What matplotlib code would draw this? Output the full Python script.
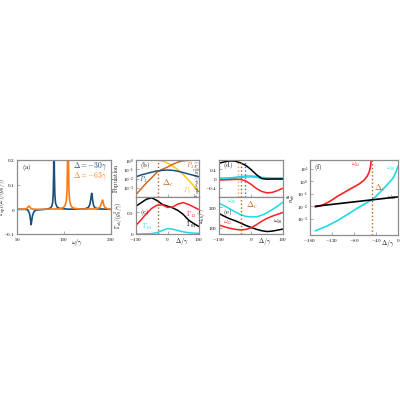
import numpy as np
import matplotlib
matplotlib.use("Agg")
import matplotlib.pyplot as plt

plt.rcParams['mathtext.fontset'] = 'cm'
plt.rcParams['font.family'] = 'serif'
plt.rcParams['font.serif'] = ['DejaVu Serif']

# --- colours ---
BLUE = '#1b4f7c'
ORANGE = '#ff7a14'
GOLD = '#ffc61a'
BROWN = '#d2691e'
DC_COL = '#b8621b'
RED = '#ff2020'
CYAN = '#20d8e6'
FRAME = '#8c8c8c'

# --- panel (a): optical damping spectra ---
omega_m30 = [50, 70, 74, 77, 79, 80, 81, 83, 86, 90, 110, 120, 124, 126, 127, 128, 128.7,
             129.5, 130.5, 132, 135, 140, 160, 195, 202, 205, 207, 208, 209, 210, 211,
             213, 216, 222, 250]
gopt_m30 = [0, 0, -0.005, -0.02, -0.045, -0.062, -0.05, -0.025, -0.01, -0.003, 0, 0.004,
            0.012, 0.03, 0.06, 0.15, 0.35, 0.15, 0.06, 0.025, 0.01, 0.004, 0.0005, 0.002,
            0.008, 0.02, 0.04, 0.055, 0.065, 0.055, 0.035, 0.015, 0.006, 0.002, 0]
omega_m63 = [50, 68, 72, 74, 75.5, 77, 79, 83, 100, 140, 148, 152, 155, 156.5, 157.5, 158.5,
             159.5, 160.5, 162, 165, 170, 185, 220, 226, 229, 231, 232, 233, 235, 238, 244, 250]
gopt_m63 = [0, 0.001, 0.006, 0.011, 0.014, 0.011, 0.005, 0.001, 0, 0.002, 0.006, 0.015,
            0.035, 0.08, 0.2, 0.4, 0.2, 0.08, 0.035, 0.013, 0.005, 0.001, 0.002, 0.008,
            0.02, 0.032, 0.038, 0.032, 0.015, 0.006, 0.002, 0]

# --- panels (b)-(e): detuning scans ---
delta = [-150, -125, -100, -75, -50, -25, 0, 25, 50, 75, 100, 125, 150]
P0 = [1.0, 1.0, 1.0, 0.99, 0.955, 0.83, 0.5, 0.224, 0.089, 0.028, 0.0071, 0.0016, 0.0004]
P1 = [0.0158, 0.025, 0.0355, 0.05, 0.068, 0.079, 0.085, 0.079, 0.063, 0.045, 0.0316, 0.0224, 0.0158]
P2 = [0.00018, 0.0008, 0.0035, 0.0126, 0.05, 0.1, 0.18, 0.355, 0.63, 0.85, 0.955, 1.0, 1.0]

G01 = [0.64, 0.72, 0.8, 0.83, 0.77, 0.68, 0.64, 0.6, 0.54, 0.45, 0.32, 0.24, 0.17]
G12 = [0.2, 0.33, 0.47, 0.59, 0.66, 0.67, 0.61, 0.62, 0.69, 0.72, 0.68, 0.62, 0.56]
G02 = [0, 0, 0.003, 0.01, 0.03, 0.08, 0.125, 0.11, 0.08, 0.05, 0.03, 0.02, 0.015]

Gopt10 = [0.66, 0.72, 0.76, 0.75, 0.68, 0.57, 0.39, 0.17, 0.0, -0.03, -0.02, -0.02, -0.02]
Gopt20 = [0, 0, 0.01, 0.03, 0.06, 0.09, 0.09, 0.07, 0.03, 0.01, 0, 0, 0]
Gopt21 = [-0.07, -0.06, -0.05, -0.04, -0.04, -0.1, -0.25, -0.43, -0.56, -0.62, -0.6, -0.52, -0.42]

w10 = [170, 156, 144, 135, 124, 112, 102, 93, 86, 82, 84, 89, 94]
w20 = [220, 207, 193, 178, 165, 156, 153, 154, 161, 173, 189, 206, 225]
w21 = [114, 105, 98, 93, 90, 92, 100, 115, 132, 146, 157, 166, 175]

delta_c = -47
delta_m63 = -63
delta_m30 = -30

# --- panel (f) ---
delta_f10 = [-150, -125, -100, -75, -50, -25, 0]
n10 = [0.01, 0.0133, 0.0178, 0.0237, 0.0316, 0.0422, 0.0562]
delta_f20 = [-150, -130, -110, -90, -70, -50, -40, -30, -20, -10, -5, 0]
n20 = [1.1e-4, 2.5e-4, 7.1e-4, 0.0025, 0.0089, 0.028, 0.063, 0.178, 0.5, 1.58, 4.0, 15.8]
delta_f21 = [-150, -140, -130, -120, -110, -100, -90, -80, -70, -62, -56, -52, -50, -48.5]
n21 = [0.0089, 0.0112, 0.0178, 0.0316, 0.063, 0.112, 0.2, 0.355, 0.63, 1.2, 2.5, 6.0, 15.0, 60.0]

FS_TICK = 3.6
FS_LAB = 4.4
FS_TXT = 4.8


def style(ax):
    for s in ax.spines.values():
        s.set_color(FRAME)
        s.set_linewidth(0.9)
    ax.tick_params(direction='in', length=2, width=0.5, color=FRAME,
                   labelsize=FS_TICK, pad=1.2)


def m(s):
    return r'$' + s + r'$'


def note(ax, x, y, s, color='black', size=FS_TXT, **kw):
    ax.text(x, y, s, color=color, transform=ax.transAxes, fontsize=size, va='center', **kw)


fig = plt.figure(figsize=(4, 4), dpi=100)

# (a)
ax_a = fig.add_axes([0.0425, 0.415, 0.235, 0.185])
ax_a.axhline(0, color='#bbbbbb', lw=0.4)
ax_a.plot(omega_m30, gopt_m30, color=BLUE, lw=1.2)
ax_a.plot(omega_m63, gopt_m63, color=ORANGE, lw=1.2)
ax_a.set_xlim(50, 250)
ax_a.set_ylim(-0.1, 0.2)
ax_a.set_xticks([50, 150, 250])
ax_a.set_xticklabels([m('50'), m('150'), m('250')])
ax_a.set_yticks([-0.1, 0, 0.1, 0.2])
ax_a.set_yticklabels([m('-0.1'), m('0'), m('0.1'), m('0.2')])
style(ax_a)
ax_a.set_ylabel(r'$\Gamma_{\rm opt}(\omega)/(g_0^2/\gamma)$', fontsize=4.2)
ax_a.yaxis.set_label_coords(-0.1, 0.5)
ax_a.text(0.64, -0.04, r'$\omega/\gamma$', transform=ax_a.transAxes, fontsize=FS_LAB,
          ha='center', va='top')
note(ax_a, 0.05, 0.9, r'$\rm (a)$')
note(ax_a, 0.97, 0.915, r'$\Delta=-30\gamma$', color=BLUE, size=5.5, ha='right')
note(ax_a, 0.97, 0.785, r'$\Delta=-63\gamma$', color=ORANGE, size=5.5, ha='right')

# (b)
ax_b = fig.add_axes([0.34, 0.5075, 0.1575, 0.0925])
ax_b.plot(delta, P0, color=GOLD, lw=1.1)
ax_b.plot(delta, P2, color=BROWN, lw=1.1)
ax_b.plot(delta, P1, color=BLUE, lw=1.1)
ax_b.axvline(delta_c, color=DC_COL, ls=':', lw=1.0)
ax_b.set_yscale('log')
ax_b.set_xlim(-150, 150)
ax_b.set_ylim(1e-4, 1.05)
ax_b.set_yticks([1, 1e-1, 1e-2, 1e-3])
ax_b.set_yticklabels([m('10^{0}'), m('10^{-1}'), m('10^{-2}'), m('10^{-3}')])
ax_b.minorticks_off()
ax_b.set_xticks([-150, 0, 150])
ax_b.set_xticklabels([])
style(ax_b)
ax_b.set_ylabel(r'$\mathrm{Population}$', fontsize=4.2, labelpad=1)
note(ax_b, 0.07, 0.84, r'$\rm (b)$')
note(ax_b, 0.04, 0.47, r'$P_1$', color=BLUE)
note(ax_b, 0.8, 0.84, r'$P_2$', color=BROWN)
note(ax_b, 0.74, 0.16, r'$P_0$', color=GOLD)
note(ax_b, 0.42, 0.36, r'$\Delta_c$', color=DC_COL, size=6)

# (c)
ax_c = fig.add_axes([0.34, 0.415, 0.1575, 0.0925])
ax_c.plot(delta, G01, color='black', lw=1.1)
ax_c.plot(delta, G12, color=RED, lw=1.1)
ax_c.plot(delta, G02, color=CYAN, lw=1.1)
ax_c.axvline(delta_c, color=DC_COL, ls=':', lw=1.0)
ax_c.set_xlim(-150, 150)
ax_c.set_ylim(0, 0.85)
ax_c.set_yticks([0, 0.5])
ax_c.set_yticklabels([m('0'), m('0.5')])
ax_c.set_xticks([-150, 0, 150])
ax_c.set_xticklabels([m('-150'), m('0'), m('150')])
style(ax_c)
ax_c.set_ylabel(r'$\Gamma_{ab}/(g_0^2/\gamma)$', fontsize=4.0, labelpad=1)
ax_c.text(0.72, -0.06, r'$\Delta/\gamma$', transform=ax_c.transAxes, fontsize=FS_LAB,
          ha='center', va='top')
note(ax_c, 0.07, 0.57, r'$\rm (c)$')
note(ax_c, 0.8, 0.52, r'$\Gamma_{12}$', color=RED)
note(ax_c, 0.8, 0.24, r'$\Gamma_{01}$')
note(ax_c, 0.1, 0.2, r'$\Gamma_{02}$', color=CYAN)

# (d)
ax_d = fig.add_axes([0.5475, 0.5075, 0.16, 0.0925])
ax_d.plot(delta, Gopt20, color=CYAN, lw=1.8)
ax_d.plot(delta, Gopt10, color='black', lw=1.1)
ax_d.plot(delta, Gopt21, color=RED, lw=1.1)
ax_d.axvline(delta_m63, color='#f0a060', ls=':', lw=1.0)
ax_d.axvline(delta_c, color=DC_COL, ls=':', lw=1.0)
ax_d.axvline(delta_m30, color='#3f74a8', ls=':', lw=1.0)
ax_d.set_xlim(-150, 150)
ax_d.set_ylim(-0.8, 0.8)
ax_d.set_yticks([-0.4, 0, 0.4])
ax_d.set_yticklabels([m('-0.4'), m('0'), m('0.4')])
ax_d.set_xticks([-150, 0, 150])
ax_d.set_xticklabels([])
style(ax_d)
ax_d.set_ylabel(r'$\Gamma_{\rm opt}(\omega_{ab})/(g_0^2/\gamma)$', fontsize=3.6, labelpad=1)
note(ax_d, 0.06, 0.84, r'$\rm (d)$')

# (e)
ax_e = fig.add_axes([0.5475, 0.415, 0.16, 0.0925])
ax_e.plot(delta, w20, color=CYAN, lw=1.1)
ax_e.plot(delta, w10, color='black', lw=1.1)
ax_e.plot(delta, w21, color=RED, lw=1.1)
ax_e.axvline(delta_c, color=DC_COL, ls=':', lw=1.0)
ax_e.set_xlim(-150, 150)
ax_e.set_ylim(70, 250)
ax_e.set_yticks([100, 200])
ax_e.set_yticklabels([m('100'), m('200')])
ax_e.set_xticks([-150, 0, 150])
ax_e.set_xticklabels([m('-150'), m('0'), m('150')])
style(ax_e)
ax_e.set_ylabel(r'$\omega_{ab}/\gamma$', fontsize=FS_LAB, labelpad=1)
ax_e.text(0.72, -0.06, r'$\Delta/\gamma$', transform=ax_e.transAxes, fontsize=FS_LAB,
          ha='center', va='top')
note(ax_e, 0.06, 0.57, r'$\rm (e)$')
note(ax_e, 0.12, 0.86, r'$\omega_{20}$', color=CYAN, size=4.4)
note(ax_e, 0.06, 0.3, r'$\omega_{21}$', color=RED, size=4.4)
note(ax_e, 0.84, 0.32, r'$\omega_{10}$', size=4.4)
note(ax_e, 0.42, 0.78, r'$\Delta_c$', color=DC_COL, size=6)

# (f)
ax_f = fig.add_axes([0.775, 0.4125, 0.22, 0.1875])
ax_f.plot(delta_f21, n21, color=RED, lw=1.2)
ax_f.plot(delta_f20, n20, color=CYAN, lw=1.2)
ax_f.plot(delta_f10, n10, color='black', lw=1.2)
ax_f.axvline(delta_c, color=DC_COL, ls=':', lw=1.0)
ax_f.set_yscale('log')
ax_f.set_xlim(-160, 0)
ax_f.set_ylim(10 ** -4.3, 10 ** 1.7)
ax_f.set_yticks([10, 1, 1e-1, 1e-2, 1e-3])
ax_f.set_yticklabels([m('10^{1}'), m('10^{0}'), m('10^{-1}'), m('10^{-2}'), m('10^{-3}')])
ax_f.minorticks_off()
ax_f.set_xticks([-160, -120, -80, -40, 0])
ax_f.set_xticklabels([m('-160'), m('-120'), m('-80'), m('-40'), m('0')])
style(ax_f)
ax_f.set_ylabel(r'$n_{ab}^{\rm th}$', fontsize=FS_LAB, labelpad=0)
ax_f.text(0.88, -0.04, r'$\Delta/\gamma$', transform=ax_f.transAxes, fontsize=FS_LAB,
          ha='center', va='top')
note(ax_f, 0.05, 0.9, r'$\rm (f)$')
note(ax_f, 0.47, 0.93, r'$\omega_{21}$', color=RED, size=4.4)
note(ax_f, 0.86, 0.88, r'$\omega_{20}$', color=CYAN, size=4.4)
note(ax_f, 0.88, 0.5, r'$\omega_{10}$', size=4.4)
note(ax_f, 0.73, 0.62, r'$\Delta_c$', color=DC_COL, size=6)

fig.savefig('out.png', dpi=100)
